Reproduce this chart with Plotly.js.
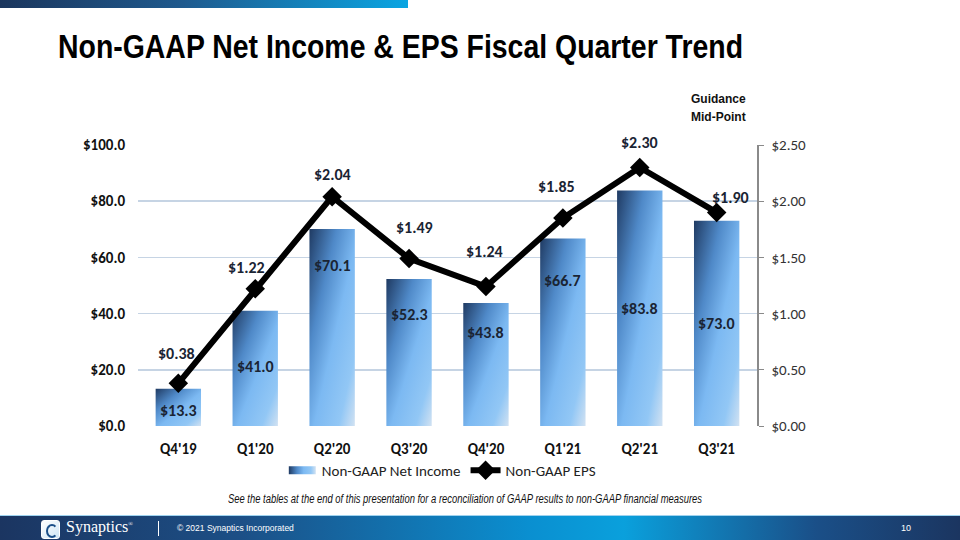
<!DOCTYPE html>
<html>
<head>
<meta charset="utf-8">
<script src="https://cdn.plot.ly/plotly-3.0.1.min.js"></script>
<style>
  html, body { margin:0; padding:0; width:960px; height:540px; overflow:hidden; background:#fff; }
  #wrap { position:relative; width:960px; height:540px; }
  #chart { position:absolute; left:0; top:0; width:960px; height:540px; }
  #topbar { position:absolute; left:0; top:0; width:408px; height:8px;
    background:linear-gradient(90deg,#1b365d 0%,#1f5a8e 45%,#0aa5e2 100%); }
  #title { position:absolute; left:58px; top:26px; white-space:nowrap; transform-origin:0 0;
    font-family:"Liberation Sans",Arial,sans-serif; font-weight:bold; font-size:34px; color:#000; line-height:40px; }
  #footer { position:absolute; left:0; top:515px; width:960px; height:25px;
    background:linear-gradient(90deg,#1b3561 0%,#1c4f86 25%,#0a8fd0 55%,#0aa0dc 65%,#1a4f88 85%,#1b3560 100%);
    border-top:1px solid #9fd3ef; color:#fff; font-family:"Liberation Sans",Arial,sans-serif; }
  #logo { position:absolute; left:41px; top:4px; width:17px; height:17px; border:1px solid #fff; border-radius:3px;
    background:linear-gradient(135deg,#ffffff 0%,#cfe6f5 100%); }
  #logo:after { content:""; position:absolute; left:4px; top:3px; width:8px; height:10px; border:2px solid #1b4f88; border-radius:50%; border-right-color:transparent; }
  #brand { position:absolute; left:66px; top:2px; font-family:"Liberation Serif","DejaVu Serif",serif; font-size:16px; }
  #brand sup { font-size:6px; }
  #sep { position:absolute; left:158px; top:5px; width:1px; height:15px; background:#fff; }
  #copy { position:absolute; left:177px; top:7px; font-size:8.5px; }
  #pg { position:absolute; left:901px; top:7px; font-size:9px; }
  #note { position:absolute; left:228px; top:492px; white-space:nowrap; transform-origin:0 0;
    font-family:"Liberation Sans",Arial,sans-serif; font-style:italic; font-size:12.5px; color:#111; }
  #guide { position:absolute; left:691px; top:90px; font-family:"Liberation Sans",Arial,sans-serif; font-weight:bold;
    font-size:12px; line-height:18px; color:#111; }
</style>
</head>
<body>
<div id="wrap">
  <div id="chart"></div>
  <div id="topbar"></div>
  <div id="title">Non-GAAP Net Income &amp; EPS Fiscal Quarter Trend</div>
  <div id="guide">Guidance<br>Mid-Point</div>
  <div id="note">See the tables at the end of this presentation for a reconciliation of GAAP results to non-GAAP financial measures</div>
  <div id="footer">
    <div id="logo"></div>
    <div id="brand">Synaptics<sup>®</sup></div>
    <div id="sep"></div>
    <div id="copy">© 2021 Synaptics Incorporated</div>
    <div id="pg">10</div>
  </div>
</div>
<script>
// ---- data ----
var quarters = ["Q4'19", "Q1'20", "Q2'20", "Q3'20", "Q4'20", "Q1'21", "Q2'21", "Q3'21"];
var netIncome = [13.3, 41.0, 70.1, 52.3, 43.8, 66.7, 83.8, 73.0];
var eps = [0.38, 1.22, 2.04, 1.49, 1.24, 1.85, 2.30, 1.90];
var incomeTickVals = [0, 20, 40, 60, 80, 100];
var epsTickVals = [0, 0.5, 1.0, 1.5, 2.0, 2.5];

// ---- label placement (layout only) ----
var incomeLabelDrop = [22, 56, 36, 35, 30, 42, 118, 103];   // px below bar top
var epsLabelRise = [30, 21, 22, 31, 35, 32, 25, 15];        // px above point
var epsLabelShiftX = [-2, -9, 0, 5, -1, -6, 0, 14];

// squeeze narrow-font texts to their reference widths
function fitWidth(id, w) {
  var el = document.getElementById(id);
  var cur = el.getBoundingClientRect().width;
  el.style.transform = "scaleX(" + (w / cur) + ")";
}
fitWidth("title", 685);
fitWidth("note", 474);

var fontFam = "Carlito, Lato, 'Open Sans', sans-serif";
var labelFont = {family: fontFam, size: 16, color: "#1a2433", weight: "bold"};

var annotations = [];
quarters.forEach(function (q, i) {
  annotations.push({
    x: q, y: netIncome[i], xref: "x", yref: "y",
    text: "$" + netIncome[i].toFixed(1), showarrow: false,
    yshift: -incomeLabelDrop[i], font: labelFont
  });
  annotations.push({
    x: q, y: eps[i], xref: "x", yref: "y2",
    text: "$" + eps[i].toFixed(2), showarrow: false,
    yshift: epsLabelRise[i], xshift: epsLabelShiftX[i], font: labelFont
  });
});

var traces = [
  {
    type: "bar", name: "Non-GAAP Net Income", x: quarters, y: netIncome,
    marker: {color: "#5f9fdc", line: {width: 0}}, hoverinfo: "skip"
  },
  {
    type: "scatter", mode: "lines+markers", name: "Non-GAAP EPS", x: quarters, y: eps, yaxis: "y2",
    line: {color: "#000000", width: 6},
    marker: {symbol: "diamond", size: 15, color: "#000000"}, hoverinfo: "skip"
  }
];

var layout = {
  width: 960, height: 540,
  paper_bgcolor: "rgba(0,0,0,0)", plot_bgcolor: "rgba(0,0,0,0)",
  margin: {l: 138, r: 203, t: 145, b: 114},
  bargap: 0.41,
  showlegend: true,
  legend: {
    orientation: "h", x: 0.49, xanchor: "center", y: -0.158, yanchor: "middle",
    font: {family: fontFam, size: 15, color: "#222"},
    itemwidth: 30, tracegroupgap: 0
  },
  xaxis: {
    type: "category", showgrid: false, zeroline: false, showline: false,
    ticks: "outside", ticklen: 9, tickcolor: "rgba(0,0,0,0)",
    tickfont: {family: fontFam, size: 15, color: "#111", weight: "bold"}
  },
  yaxis: {
    range: [0, 100], tickvals: incomeTickVals,
    ticktext: incomeTickVals.map(function (v) { return "$" + v.toFixed(1); }),
    showgrid: true, gridcolor: "#c6d4e4", gridwidth: 1.5, zeroline: false, showline: false, ticks: "",
    tickfont: {family: fontFam, size: 15, color: "#111", weight: "bold"},
    ticklabelstandoff: 12
  },
  yaxis2: {
    range: [0, 2.5], tickvals: epsTickVals,
    ticktext: epsTickVals.map(function (v) { return "$" + v.toFixed(2); }),
    overlaying: "y", side: "right", showgrid: false, zeroline: false,
    showline: true, linecolor: "#8a8a8a", linewidth: 1.5,
    ticks: "outside", ticklen: 5, tickcolor: "#8a8a8a",
    tickfont: {family: fontFam, size: 15, color: "#333"},
    ticklabelstandoff: 5
  },
  annotations: annotations
};

Plotly.newPlot("chart", traces, layout, {staticPlot: true, displayModeBar: false}).then(function (gd) {
  var svgNS = "http://www.w3.org/2000/svg";
  var svg = gd.querySelector("svg.main-svg");
  var defs = svg.querySelector("defs") || svg.insertBefore(document.createElementNS(svgNS, "defs"), svg.firstChild);
  function makeGrad(id, x2, y2) {
    var grad = document.createElementNS(svgNS, "linearGradient");
    grad.setAttribute("id", id);
    grad.setAttribute("x1", "0"); grad.setAttribute("y1", "0");
    grad.setAttribute("x2", x2); grad.setAttribute("y2", y2);
    [["0", "#1f3a62"], ["0.3", "#4f89c8"], ["0.55", "#7cb9f2"], ["0.82", "#92c7f5"], ["1", "#d2e2f2"]].forEach(function (s) {
      var st = document.createElementNS(svgNS, "stop");
      st.setAttribute("offset", s[0]); st.setAttribute("stop-color", s[1]);
      grad.appendChild(st);
    });
    defs.appendChild(grad);
  }
  makeGrad("barGrad", "1", "1");
  makeGrad("legGrad", "1", "0");
  gd.querySelectorAll(".barlayer .point path").forEach(function (p) { p.style.fill = "url(#barGrad)"; });
  gd.querySelectorAll(".legend .traces").forEach(function (t, i) {
    if (i === 0) {
      t.querySelectorAll(".legendpoints path").forEach(function (p) {
        p.setAttribute("d", "M14,4H-13V-4H14Z");
        p.style.fill = "url(#legGrad)";
      });
    }
  });
});
</script>
</body>
</html>
